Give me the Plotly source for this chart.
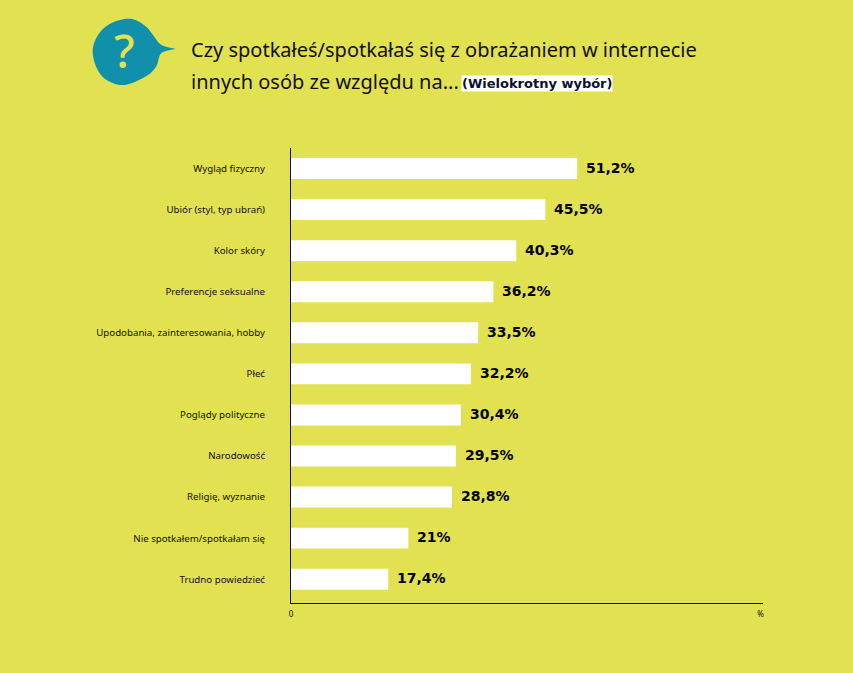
import plotly.graph_objects as go

WIDTH = 853
HEIGHT = 673
BG = '#E2E151'
BLUE = '#1190AC'

categories = ['Wygląd fizyczny', 'Ubiór (styl, typ ubrań)', 'Kolor skóry', 'Preferencje seksualne',
              'Upodobania, zainteresowania, hobby', 'Płeć', 'Poglądy polityczne', 'Narodowość',
              'Religię, wyznanie', 'Nie spotkałem/spotkałam się', 'Trudno powiedzieć']
values = [51.2, 45.5, 40.3, 36.2, 33.5, 32.2, 30.4, 29.5, 28.8, 21, 17.4]
value_labels = ['51,2%', '45,5%', '40,3%', '36,2%', '33,5%', '32,2%', '30,4%', '29,5%', '28,8%', '21%', '17,4%']
x_ticks = [0, 84]
x_tick_labels = ['0', '%']


def px(x):
    return x / WIDTH


def py(y):
    return 1 - y / HEIGHT


def bubble_path():
    # speech bubble behind the question mark
    # smoothed with catmull-rom, the tip (index 5) stays sharp
    p = [(123, 19), (134, 20), (145, 27), (153, 37), (160, 45), (175, 49), (160, 53), (155, 66),
         (145, 76), (123, 85), (105, 80), (95, 68), (91, 50), (97, 34), (108, 24)]
    n = len(p)

    def tangent(i):
        if i == 5:
            return (0, 0)
        a, b = p[(i - 1) % n], p[(i + 1) % n]
        return ((b[0] - a[0]) / 6, (b[1] - a[1]) / 6)

    path = f'M {px(p[0][0])},{py(p[0][1])}'
    for i in range(n):
        j = (i + 1) % n
        t0, t1 = tangent(i), tangent(j)
        c1 = (p[i][0] + t0[0], p[i][1] + t0[1])
        c2 = (p[j][0] - t1[0], p[j][1] - t1[1])
        path += f' C {px(c1[0])},{py(c1[1])} {px(c2[0])},{py(c2[1])} {px(p[j][0])},{py(p[j][1])}'
    return path + ' Z'


fig = go.Figure()

fig.add_trace(go.Bar(
    x=values,
    y=categories,
    orientation='h',
    marker=dict(color='white', line_width=0),
    width=0.51,
    hoverinfo='skip'
))

# value labels next to the bars
for cat, val, label in zip(categories, values, value_labels):
    fig.add_annotation(
        x=val, y=cat, text=label, showarrow=False,
        xanchor='left', yanchor='middle', xshift=7, yshift=1,
        font=dict(family='DejaVu Sans', size=14, color='black', weight='bold')
    )

# header: icon and question
fig.add_shape(type='path', xref='paper', yref='paper', path=bubble_path(),
              fillcolor=BLUE, line_width=0)
fig.add_annotation(
    xref='paper', yref='paper', x=px(123), y=py(50), text='?', showarrow=False,
    xanchor='center', yanchor='middle',
    font=dict(family='Noto Sans', size=46, color=BG, weight=500)
)
fig.add_annotation(
    xref='paper', yref='paper', x=px(188), y=py(50), text='Czy spotkałeś/spotkałaś się z obrażaniem w internecie',
    showarrow=False, xanchor='left', yanchor='middle', font=dict(family='Noto Sans', size=20, color='#111111')
)
fig.add_annotation(
    xref='paper', yref='paper', x=px(188), y=py(81), text='innych osób ze względu na...',
    showarrow=False, xanchor='left', yanchor='middle', font=dict(family='Noto Sans', size=20, color='#111111')
)
fig.add_annotation(
    xref='paper', yref='paper', x=px(460.5), y=py(83), text='(Wielokrotny wybór)',
    showarrow=False, xanchor='left', yanchor='middle', bgcolor='white', borderpad=0,
    font=dict(family='DejaVu Sans', size=13, color='#0B1030', weight='bold')
)

fig.update_layout(
    width=WIDTH,
    height=HEIGHT,
    margin=dict(l=0, r=0, t=0, b=0),
    paper_bgcolor=BG,
    plot_bgcolor=BG,
    showlegend=False,
    font=dict(family='Noto Sans', color='#111111'),
    xaxis=dict(
        domain=[px(290), px(764)],
        range=[0, 84.5],
        tickvals=x_ticks,
        ticktext=x_tick_labels,
        tickfont=dict(size=8),
        ticks='',
        ticklabelstandoff=3,
        showgrid=False,
        zeroline=False,
        showline=True,
        linecolor='#111111',
        linewidth=1,
        anchor='y'
    ),
    yaxis=dict(
        domain=[py(603), py(148)],
        categoryorder='array',
        categoryarray=categories,
        range=[10.58, -0.5],
        tickfont=dict(size=9.7),
        ticks='',
        ticklabelstandoff=23,
        showgrid=False,
        zeroline=False,
        showline=True,
        linecolor='#111111',
        linewidth=1,
        anchor='x'
    )
)

fig.write_html(
    'out.html',
    config=dict(displayModeBar=False),
    post_script=f"document.body.style.margin='0';document.body.style.background='{BG}';"
)
